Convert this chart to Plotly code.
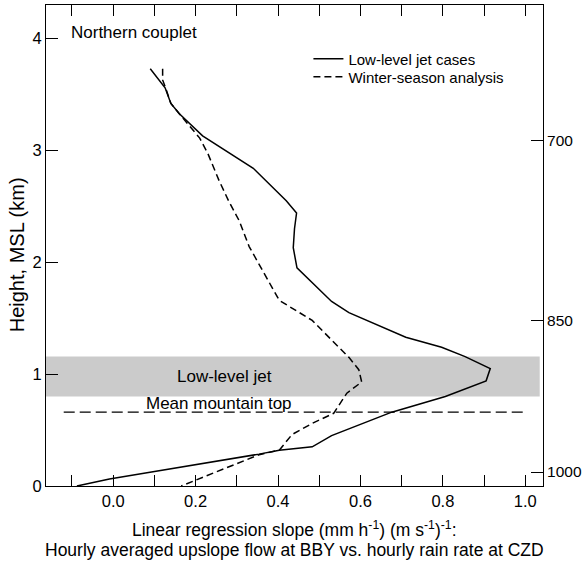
import plotly.graph_objects as go

# ---- data ----
llj_slope = [0.09, 0.126, 0.14, 0.16, 0.217, 0.34, 0.42, 0.445, 0.44, 0.437, 0.446, 0.53, 0.572,
             0.71, 0.797, 0.854, 0.915, 0.905, 0.806, 0.676, 0.53, 0.483, 0.403, 0.354, 0.093,
             -0.009, -0.088]
llj_height = [3.73, 3.56, 3.42, 3.33, 3.13, 2.84, 2.55, 2.44, 2.30, 2.13, 1.95, 1.65, 1.55,
              1.33, 1.24, 1.157, 1.05, 0.94, 0.80, 0.66, 0.45, 0.35, 0.32, 0.285, 0.125,
              0.062, 0.0]

win_slope = [0.12, 0.12, 0.127, 0.14, 0.16, 0.21, 0.23, 0.257, 0.28, 0.306, 0.33, 0.37, 0.403,
             0.483, 0.572, 0.596, 0.603, 0.567, 0.535, 0.483, 0.434, 0.403, 0.354, 0.165]
win_height = [3.73, 3.63, 3.56, 3.42, 3.33, 3.11, 2.97, 2.73, 2.55, 2.37, 2.14, 1.87, 1.66,
              1.48, 1.15, 1.04, 0.93, 0.83, 0.65, 0.56, 0.46, 0.32, 0.28, 0.0]

x_tick_values = [-0.1, 0.0, 0.1, 0.2, 0.3, 0.4, 0.5, 0.6, 0.7, 0.8, 0.9, 1.0]
x_tick_labels = ["", "0.0", "", "0.2", "", "0.4", "", "0.6", "", "0.8", "", "1.0"]
y_tick_values = [0, 1, 2, 3, 4]
pressure_heights = [0.125, 1.48, 3.09]
pressure_labels = ["1000", "850", "700"]

jet_band = [0.80, 1.157]
mountain_top = 0.66
mountain_line_x = [-0.12, 1.0]

FONT = "Liberation Sans, Arial, sans-serif"

fig = go.Figure()
fig.add_trace(go.Scatter(x=llj_slope, y=llj_height, mode="lines", name="Low-level jet cases",
                         line=dict(color="black", width=1.5), legend="legend"))
fig.add_trace(go.Scatter(x=win_slope, y=win_height, mode="lines", name="Winter-season analysis",
                         line=dict(color="black", width=1.5, dash="7px,4px"), legend="legend2"))
# empty trace so the pressure axis on the right is drawn
fig.add_trace(go.Scatter(x=[None], y=[None], yaxis="y2", showlegend=False, hoverinfo="skip"))

# low-level jet band
fig.add_shape(type="rect", xref="x", yref="y", x0=-0.2, x1=1.035, y0=jet_band[0], y1=jet_band[1],
              fillcolor="#cbcbcb", line=dict(width=0), layer="below")
# mean mountain top
fig.add_shape(type="line", xref="x", yref="y", x0=mountain_line_x[0], x1=mountain_line_x[1],
              y0=mountain_top, y1=mountain_top, line=dict(color="black", width=1.2, dash="11px,5px"))

fig.add_annotation(x=0.27, y=0.98, xref="x", yref="y", text="Low-level jet", showarrow=False,
                   font=dict(size=17, color="black", family=FONT))
fig.add_annotation(x=0.257, y=0.735, xref="x", yref="y", text="Mean mountain top", showarrow=False,
                   font=dict(size=17, color="black", family=FONT))
fig.add_annotation(x=0.046, y=0.942, xref="paper", yref="paper", text="Northern couplet",
                   showarrow=False, xanchor="left", yanchor="middle",
                   font=dict(size=17, color="black", family=FONT))

# axis titles
fig.add_annotation(x=0.5, y=-0.0894, xref="paper", yref="paper",
                   text="Linear regression slope (mm h<sup>-1</sup>) (m s<sup>-1</sup>)<sup>-1</sup>:",
                   showarrow=False, xanchor="center", yanchor="middle",
                   font=dict(size=17.5, color="black", family=FONT))
fig.add_annotation(x=0.5, y=-0.133, xref="paper", yref="paper",
                   text="Hourly averaged upslope flow at BBY vs. hourly rain rate at CZD",
                   showarrow=False, xanchor="center", yanchor="middle",
                   font=dict(size=17.5, color="black", family=FONT))
fig.add_annotation(x=-0.058, y=0.48, xref="paper", yref="paper", text="Height, MSL (km)",
                   textangle=-90, showarrow=False, xanchor="center", yanchor="middle",
                   font=dict(size=20, color="black", family=FONT))

legend_common = dict(xanchor="left", yanchor="middle", bgcolor="rgba(0,0,0,0)",
                     font=dict(size=15, family=FONT, color="black"))

fig.update_layout(
    width=586, height=562,
    margin=dict(l=46, r=43, t=5, b=76, autoexpand=False),
    paper_bgcolor="white", plot_bgcolor="white",
    font=dict(family=FONT, color="black", size=16),
    showlegend=True,
    legend=dict(x=0.528, y=0.8877, **legend_common),
    legend2=dict(x=0.528, y=0.8503, **legend_common),
    xaxis=dict(range=[-0.163, 1.043], tickvals=x_tick_values, ticktext=x_tick_labels,
               ticks="inside", ticklen=11, tickcolor="black", showline=True, linecolor="black",
               linewidth=1, mirror="ticks", showgrid=False, zeroline=False, automargin=False,
               tickfont=dict(size=16.5)),
    yaxis=dict(range=[0, 4.3], tickvals=y_tick_values, ticks="inside", ticklen=12,
               tickcolor="black", showline=True, linecolor="black", linewidth=1,
               showgrid=False, zeroline=False, automargin=False, tickfont=dict(size=16.5)),
    yaxis2=dict(range=[0, 4.3], overlaying="y", side="right", tickvals=pressure_heights,
                ticktext=pressure_labels, ticks="inside", ticklen=12, tickcolor="black",
                showline=True, linecolor="black", linewidth=1, showgrid=False, zeroline=False,
                automargin=False, tickfont=dict(size=15.5), ticklabelstandoff=0),
)

fig.write_html("out.html")
